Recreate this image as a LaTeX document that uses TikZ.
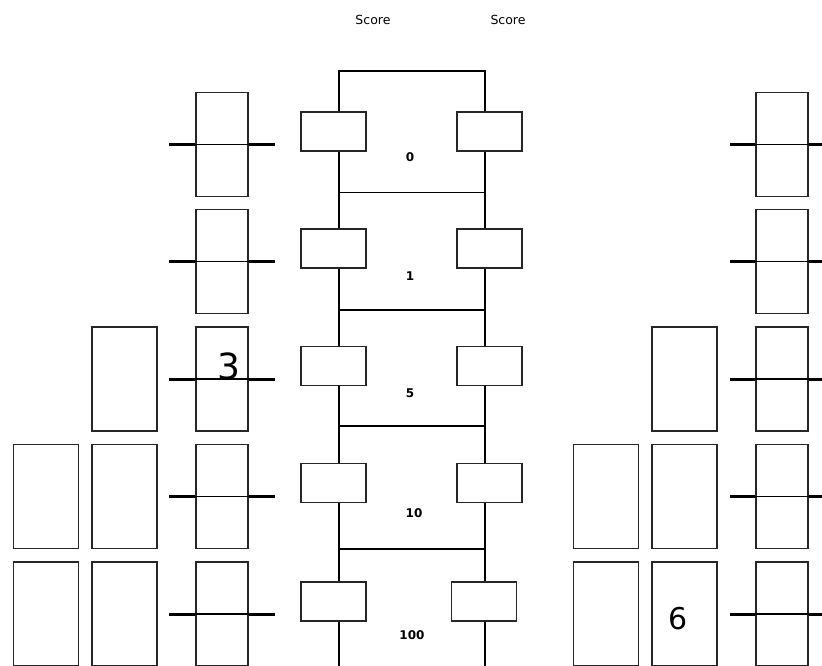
\documentclass[tikz,border=0pt]{standalone}
\usepackage{fontspec}
\setmainfont{DejaVu Sans}
\begin{document}
\begin{tikzpicture}[x=1pt,y=-1pt,
  cell/.style={draw=black!85,line width=1.4pt,fill=white,inner sep=0pt,minimum width=65pt,minimum height=104pt},
  tallcell/.style={draw=black!85,line width=1.4pt,fill=white,inner sep=0pt,minimum width=52pt,minimum height=104pt},
  switchbox/.style={draw=black!85,line width=1.4pt,fill=white,inner sep=0pt,minimum width=65pt,minimum height=39pt},
  bar/.style={line width=3pt,black},
  divider/.style={line width=1.4pt,black},
  rail/.style={line width=1.3pt,black},
  small/.style={font=\fontsize{12.5}{14}\selectfont},
  val/.style={font=\fontsize{12}{14}\selectfont\bfseries},
  big/.style={font=\fontsize{36}{40}\selectfont}]
\useasboundingbox (0,0) rectangle (822,666);
% ladder
\coordinate (TL) at (339,71);
\coordinate (TR) at (485,71);
\coordinate (BL) at (339,666);
\coordinate (BR) at (485,666);
\draw[rail] (BL) -- (TL) -- (TR) -- (BR);
\foreach \y/\n in {192.5/a,310/b,426/c,549/d}{
  \coordinate (rl\n) at (339,\y);
  \coordinate (rr\n) at (485,\y);
  \draw[rail] (rl\n) -- (rr\n);
}
% switch boxes
\foreach \y/\n in {131.5/1,248.5/2,366/3,483/4,601.5/5}{
  \node[switchbox] (sl\n) at (333.5,\y) {};
}
\foreach \y/\n in {131.5/1,248.5/2,366/3,483/4}{
  \node[switchbox] (sr\n) at (489.5,\y) {};
}
\node[switchbox] (sr5) at (484,601.5) {};
% values
\node[val] (v0) at (410,157) {0};
\node[val] (v1) at (410,276) {1};
\node[val] (v5) at (410,393) {5};
\node[val] (v10) at (414,513) {10};
\node[val] (v100) at (412,635) {100};
% scores
\node[small] (s1) at (373,20) {Score};
\node[small] (s2) at (508,20) {Score};
% tall cells with bars
\foreach \y/\n in {144.5/1,261.5/2,379/3,496.5/4,614/5}{
  \node[tallcell] (L\n) at (222,\y) {};
  \draw[divider] (L\n.west) -- (L\n.east);
  \draw[bar] ([xshift=-26pt]L\n.west) -- (L\n.west);
  \draw[bar] (L\n.east) -- ([xshift=26pt]L\n.east);
  \node[tallcell] (R\n) at (782,\y) {};
  \draw[divider] (R\n.west) -- (R\n.east);
  \draw[bar] ([xshift=-25pt]R\n.west) -- (R\n.west);
  \draw[bar] (R\n.east) -- ([xshift=26pt]R\n.east);
}
% plain cells
\node[cell] (A4) at (46,496.5) {};
\node[cell] (A5) at (46,614) {};
\node[cell] (B3) at (124.5,379) {};
\node[cell] (B4) at (124.5,496.5) {};
\node[cell] (B5) at (124.5,614) {};
\node[cell] (C4) at (606,496.5) {};
\node[cell] (C5) at (606,614) {};
\node[cell] (D3) at (684.5,379) {};
\node[cell] (D4) at (684.5,496.5) {};
\node[cell] (D5) at (684.5,614) {};
% big digits
\node[big,inner sep=0pt] (n3) at (229,366) {3};
\node[font=\fontsize{30}{34}\selectfont,inner sep=0pt] (n6) at (678,619) {6};
\end{tikzpicture}
\end{document}
